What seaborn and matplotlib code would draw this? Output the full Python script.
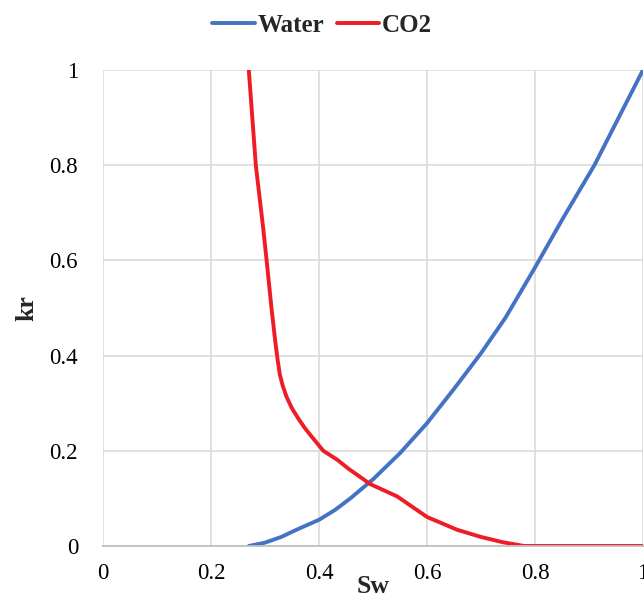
import matplotlib
matplotlib.use("Agg")
import matplotlib.pyplot as plt
import seaborn as sns
import pandas as pd

# Data
water_sw = [0.27, 0.30, 0.33, 0.36, 0.40, 0.43, 0.458, 0.50, 0.55, 0.60, 0.65, 0.70,
            0.745, 0.80, 0.85, 0.91, 0.95, 1.00]
water_kr = [0.0, 0.007, 0.019, 0.035, 0.055, 0.076, 0.10, 0.14, 0.195, 0.258, 0.33, 0.405,
            0.479, 0.585, 0.685, 0.80, 0.889, 1.00]

co2_sw = [0.270, 0.283, 0.297, 0.303, 0.312, 0.3190, 0.3235, 0.3275, 0.333, 0.340,
          0.350, 0.361, 0.373, 0.387, 0.408, 0.434, 0.455, 0.495, 0.545, 0.60,
          0.656, 0.70, 0.74, 0.78, 0.90, 1.00]
co2_kr = [1.0, 0.80, 0.664, 0.60, 0.50, 0.43, 0.39, 0.36, 0.336, 0.313,
          0.289, 0.269, 0.249, 0.229, 0.20, 0.181, 0.162, 0.13, 0.104, 0.061,
          0.034, 0.019, 0.008, 0.0, 0.0, 0.0]

series_names = ["Water", "CO2"]
x_ticks = [0, 0.2, 0.4, 0.6, 0.8, 1]
x_tick_labels = ["0", "0.2", "0.4", "0.6", "0.8", "1"]
y_ticks = [0, 0.2, 0.4, 0.6, 0.8, 1]
y_tick_labels = ["0", "0.2", "0.4", "0.6", "0.8", "1"]

df = pd.concat([
    pd.DataFrame({"Sw": water_sw, "kr": water_kr, "phase": series_names[0]}),
    pd.DataFrame({"Sw": co2_sw, "kr": co2_kr, "phase": series_names[1]}),
], ignore_index=True)

sns.set_style("white")
plt.rcParams["font.family"] = ["Liberation Serif", "DejaVu Serif"]

fig = plt.figure(figsize=(6.44, 5.98), dpi=100)
ax = fig.add_axes([103 / 644, 1 - 546 / 598, 540 / 644, 476 / 598])

sns.lineplot(data=df, x="Sw", y="kr", hue="phase", sort=False,
             palette={"Water": "#4472C4", "CO2": "#EE1C25"},
             linewidth=2.8, ax=ax, legend=True)
for line in ax.get_lines():
    line.set_solid_joinstyle("round")
    line.set_solid_capstyle("round")

ax.set_xlim(0, 1)
ax.set_ylim(0, 1)
ax.set_xticks(x_ticks)
ax.set_xticklabels(x_tick_labels)
ax.set_yticks(y_ticks)
ax.set_yticklabels(y_tick_labels)
ax.grid(True, color="#d9d9d9", linewidth=1.1)
ax.set_axisbelow(True)
for side in ["top", "right"]:
    ax.spines[side].set_visible(False)
ax.spines["left"].set_visible(False)
ax.spines["bottom"].set_color("#bfbfbf")
ax.spines["bottom"].set_linewidth(1.3)
ax.tick_params(axis="both", length=0, labelsize=16.5, colors="black")
ax.tick_params(axis="y", pad=18)
ax.tick_params(axis="x", pad=12)

ax.set_xlabel("Sw", fontsize=18.5, fontweight="bold", labelpad=-6)
ax.set_ylabel("kr", fontsize=18.5, fontweight="bold", labelpad=8)

handles, labels = ax.get_legend_handles_labels()
ax.get_legend().remove()
fig.legend(handles, labels, loc="center", bbox_to_anchor=(0.5, 0.958), ncol=2,
           frameon=False, prop={"weight": "bold", "size": 18},
           handlelength=1.7, handletextpad=0.1, columnspacing=0.5)

fig.savefig("out.png", dpi=100)
